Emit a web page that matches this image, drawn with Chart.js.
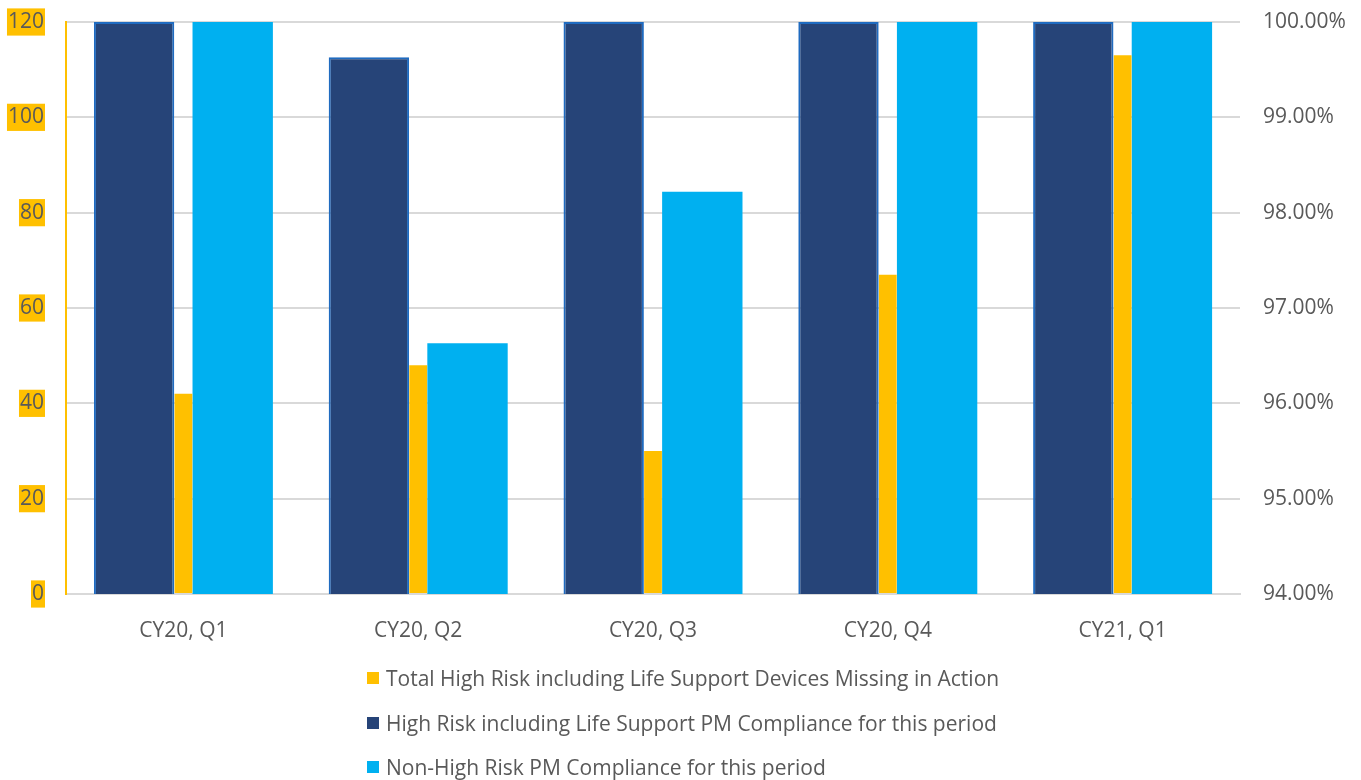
<!DOCTYPE html>
<html>
<head>
<meta charset="utf-8">
<script src="https://cdn.jsdelivr.net/npm/chart.js@4"></script>
<style>
  body { margin: 0; background: #fff; }
  #wrap { position: relative; width: 1361px; height: 780px; }
  #legend {
    position: absolute; left: 367px; top: 656px;
    margin: 0; padding: 0; list-style: none;
    font-family: "Open Sans", sans-serif; font-size: 21px; color: #595959;
  }
  #legend li { display: flex; align-items: center; height: 44.5px; white-space: nowrap; }
  #legend span { display: inline-block; width: 12px; height: 12px; margin-right: 7px; }
</style>
</head>
<body>
<div id="wrap">
  <canvas id="myChart" width="1361" height="780"></canvas>
  <ul id="legend"></ul>
</div>
<script>
const quarters = ["CY20, Q1", "CY20, Q2", "CY20, Q3", "CY20, Q4", "CY21, Q1"];
const missingDevices = [42, 48, 30, 67, 113];                  // left axis, count
const highRiskCompliance = [100, 99.63, 100, 100, 100];        // right axis, %
const nonHighRiskCompliance = [100, 96.63, 98.22, 100, 100];   // right axis, %
const countTicks = [0, 120, 20];    // min, max, step
const percentTicks = [94, 100, 1];

const gray = '#595959';
const font = { family: "'Open Sans', sans-serif", size: 21 };

// pin an axis width and drop the label overflow padding so the plot area stays put
const fixWidth = w => s => {
    s.width = w;
    s.paddingTop = 0;
    s.paddingBottom = 0;
};

const ctx = document.getElementById("myChart").getContext("2d");

let chart = new Chart(ctx, {
    type: 'bar',
    data: {
        labels: quarters,
        datasets: [{
            label: 'Total High Risk including Life Support Devices Missing in Action',
            data: missingDevices,
            yAxisID: 'y',
            backgroundColor: '#FFC000',
            barPercentage: 0.36,
            order: 1
        }, {
            label: 'High Risk including Life Support PM Compliance for this period',
            data: highRiskCompliance,
            yAxisID: 'y1',
            backgroundColor: '#264478',
            borderColor: '#1F6BC0',
            borderWidth: 2,
            barPercentage: 1.63,
            order: 0
        }, {
            label: 'Non-High Risk PM Compliance for this period',
            data: nonHighRiskCompliance,
            yAxisID: 'y1',
            backgroundColor: '#00B0F0',
            barPercentage: 1.63,
            order: 2
        }]
    },
    options: {
        responsive: false,
        animation: false,
        layout: { padding: { top: 22 } },
        datasets: { bar: { categoryPercentage: 0.63 } },
        plugins: {
            legend: { display: false },
            tooltip: { enabled: false }
        },
        scales: {
            x: {
                grid: { display: false },
                border: { color: '#d9d9d9', width: 2 },
                ticks: { color: gray, font: font, padding: 16, maxRotation: 0 },
                afterFit: s => { s.height = 186; }
            },
            y: {
                position: 'left',
                min: countTicks[0],
                max: countTicks[1],
                grid: { color: '#d9d9d9', lineWidth: 2, drawTicks: false },
                border: { color: '#FFC000', width: 2 },
                ticks: {
                    stepSize: countTicks[2],
                    color: gray,
                    font: font,
                    padding: 22,
                    showLabelBackdrop: true,
                    backdropColor: '#FFC000',
                    backdropPadding: 1
                },
                afterFit: fixWidth(66)
            },
            y1: {
                position: 'right',
                min: percentTicks[0],
                max: percentTicks[1],
                grid: { display: false, drawTicks: false },
                border: { display: false },
                ticks: {
                    stepSize: percentTicks[2],
                    color: gray,
                    font: font,
                    padding: 23,
                    callback: v => v.toFixed(2) + '%'
                },
                afterFit: fixWidth(121)
            }
        }
    }
});

// legend list, in dataset order
const legend = document.getElementById("legend");
chart.data.datasets.forEach(ds => {
    const li = document.createElement("li");
    const box = document.createElement("span");
    box.style.background = ds.backgroundColor;
    li.appendChild(box);
    li.appendChild(document.createTextNode(ds.label));
    legend.appendChild(li);
});
</script>
</body>
</html>
